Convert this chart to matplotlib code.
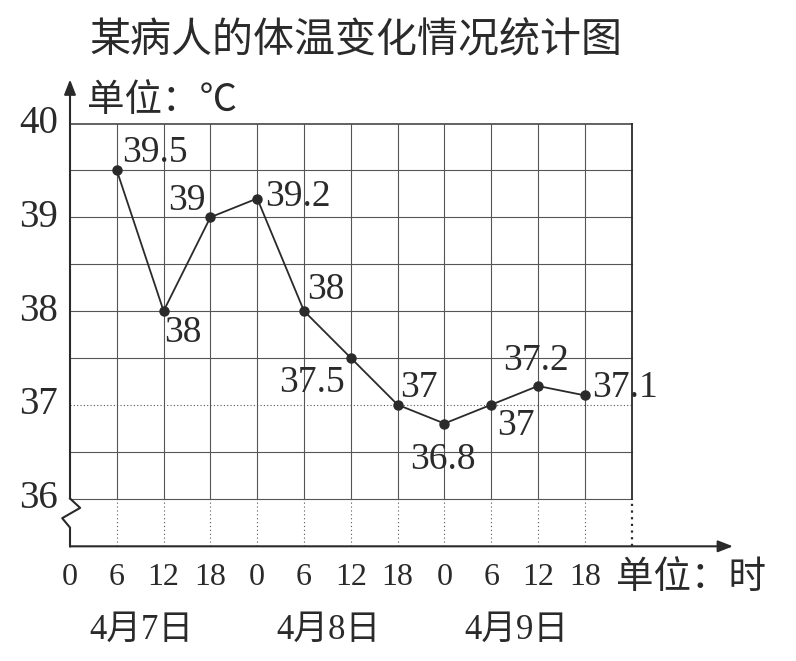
import matplotlib
matplotlib.use('Agg')
import matplotlib.pyplot as plt

plt.rcParams['font.family'] = ['Liberation Serif', 'Noto Sans CJK SC']

hours = [6, 12, 18, 24, 30, 36, 42, 48, 54, 60, 66]
temps = [39.5, 38, 39, 39.2, 38, 37.5, 37, 36.8, 37, 37.2, 37.1]
tick_hours = [0, 6, 12, 18, 24, 30, 36, 42, 48, 54, 60, 66]
tick_labels = ['0', '6', '12', '18', '0', '6', '12', '18', '0', '6', '12', '18']
y_ticks = [36, 37, 38, 39, 40]
dates = ['4月7日', '4月8日', '4月9日']
date_hours = [9, 33, 57]

# label offsets (pixels) and alignment for each point label
label_pos = [(5, 18, 'left'), (1, -22, 'left'), (-5, 17, 'right'), (8, 2, 'left'),
             (3, 21, 'left'), (-6, -25, 'right'), (3, 17, 'left'), (-2, -36, 'center'),
             (6, -21, 'left'), (-2, 25, 'center'), (7, 8, 'left')]

INK = '#2a2a2a'
GRID = '#555555'

fig = plt.figure(figsize=(7.96, 6.61), dpi=100)
ax = fig.add_axes([0, 0, 1, 1])
ax.set_xlim(-70 / 7.8, 726 / 7.8)
ax.set_ylim(40 - 537.5 / 93.75, 40 + 123.5 / 93.75)
ax.axis('off')

x_end = 72
y_base = 35.49

# grid
for k in range(9):
    v = 36 + 0.5 * k
    ls = (0, (1, 2)) if v == 37 else '-'
    lw = 1.3 if v == 40 else 0.8
    ax.plot([0, x_end], [v, v], color=GRID, lw=lw, ls=ls)
for h in range(6, 72, 6):
    ax.plot([h, h], [36, 40], color=GRID, lw=0.8)
    ax.plot([h, h], [y_base, 36], color=GRID, lw=0.8, ls=(0, (1, 2.5)))
ax.plot([x_end, x_end], [36, 40], color=INK, lw=1.3)
ax.plot([x_end, x_end], [y_base, 36], color=INK, lw=1.6, ls=(0, (1, 2)))

# axes with break mark
ax.plot([0, 1.3, -1, 0, 0], [36, 35.9, 35.79, 35.69, y_base], color=INK, lw=1.5)
arrow = dict(arrowstyle='-|>,head_length=0.9,head_width=0.35', color=INK, lw=1.5,
             shrinkA=0, shrinkB=0)
ax.annotate('', xy=(0, 40.47), xytext=(0, 36), arrowprops=arrow)
ax.annotate('', xy=(85, y_base), xytext=(0, y_base), arrowprops=arrow)

# data line
ax.plot(hours, temps, color=INK, lw=1.3, marker='o', ms=6.5, zorder=5)
for h, t, (dx, dy, ha) in zip(hours, temps, label_pos):
    ax.annotate(f'{t:g}', (h, t), xytext=(dx, dy), textcoords='offset pixels',
                ha=ha, va='center', fontsize=27, color=INK)

# tick labels
for v in y_ticks:
    ax.text(-1.5, v, str(v), ha='right', va='center', fontsize=28, color=INK)
for h, s in zip(tick_hours, tick_labels):
    ax.text(h, y_base - 0.33, s, ha='center', va='center', fontsize=23, color=INK)
for h, s in zip(date_hours, dates):
    ax.text(h + 0.2, y_base - 0.9, s, ha='center', va='center', fontsize=25, color=INK)

ax.text(70.0, y_base - 0.33, '单位：时', ha='left', va='center', fontsize=27,
        color=INK, family='Noto Sans CJK SC')
ax.text(2.2, 40.25, '单位：℃', ha='left', va='center', fontsize=27,
        color=INK, family='Noto Sans CJK SC')
ax.text(36.6, 40 + 83 / 93.75, '某病人的体温变化情况统计图', ha='center', va='center',
        fontsize=29.5, color=INK, family='Noto Sans CJK SC')

fig.savefig('out.png', dpi=100, facecolor='white')
